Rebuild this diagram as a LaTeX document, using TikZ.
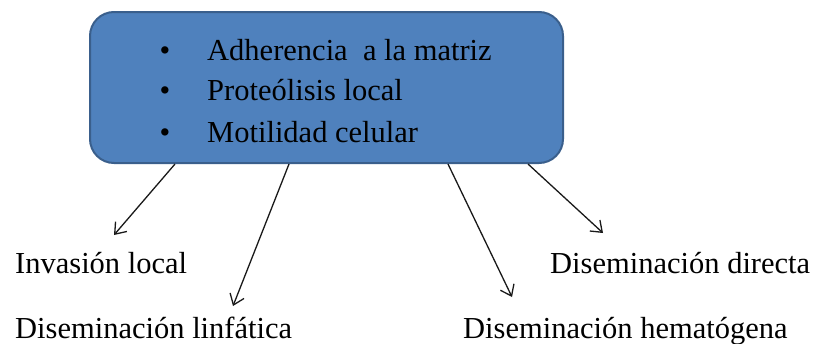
\documentclass[tikz,border=0pt]{standalone}
\usepackage{fontspec}
\setmainfont{Liberation Serif}
\usetikzlibrary{arrows.meta}
\definecolor{boxfill}{HTML}{4F81BD}
\definecolor{boxline}{HTML}{3A5F8C}
\begin{document}
\begin{tikzpicture}[x=1pt,y=-1pt,
  lbl/.style={anchor=base west, inner sep=0pt, font=\fontsize{30.5}{36}\selectfont},
  bul/.style={anchor=base, inner sep=0pt, font=\fontsize{30.5}{36}\selectfont},
  arr/.style={-{Straight Barb[length=10pt,width=15pt]}, line width=1.3pt, draw=black!90}]
\useasboundingbox (0,0) rectangle (818,343);
\node[draw=boxline, fill=boxfill, line width=2pt, rounded corners=24pt,
      minimum width=473pt, minimum height=151pt, inner sep=0pt, anchor=north west] (box) at (89,11) {};
\node[bul] (b1) at (165,60) {•};
\node[bul] (b2) at (165,100) {•};
\node[bul] (b3) at (165,142) {•};
\node[lbl] (t1) at (207,60) {Adherencia\ \ a la matriz};
\node[lbl] (t2) at (207,100) {Proteólisis local};
\node[lbl] (t3) at (207,142) {Motilidad celular};
\node[lbl] (l1) at (15,273) {Invasión local};
\node[lbl] (l2) at (15,338) {Diseminación linfática};
\node[lbl] (l3) at (550,273) {Diseminación directa};
\node[lbl] (l4) at (463,338) {Diseminación hematógena};
\coordinate (e1) at (114,235);
\coordinate (e2) at (233,306);
\coordinate (e3) at (512,297);
\coordinate (e4) at (603,233);
\draw[arr] ([xshift=86pt]box.south west) -- (e1);
\draw[arr] ([xshift=200pt]box.south west) -- (e2);
\draw[arr] ([xshift=359pt]box.south west) -- (e3);
\draw[arr] ([xshift=439pt]box.south west) -- (e4);
\end{tikzpicture}
\end{document}
